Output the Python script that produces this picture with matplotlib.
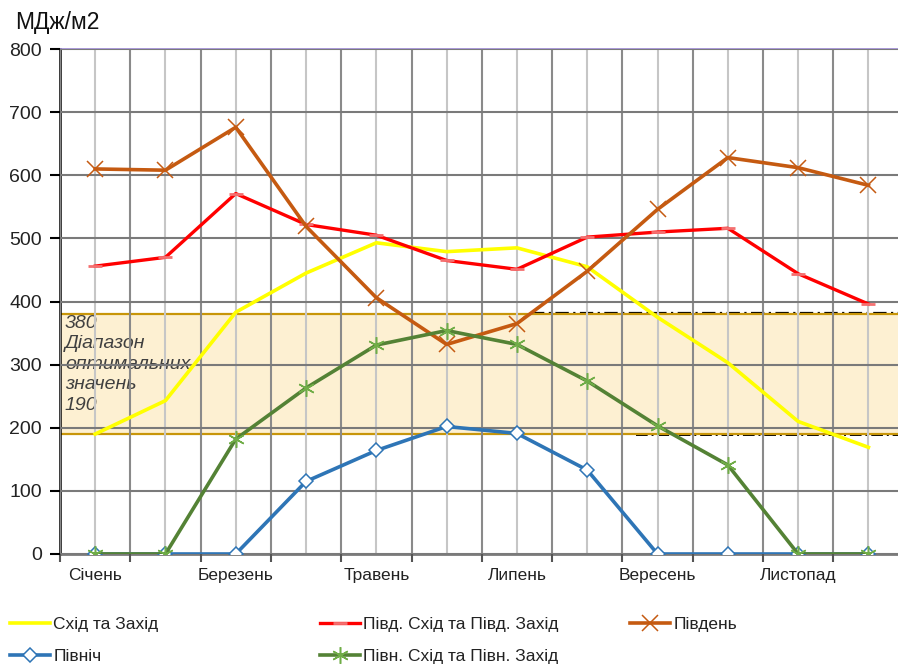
import matplotlib
matplotlib.use("Agg")
import matplotlib.pyplot as plt
from matplotlib import font_manager
import numpy as np

# monthly solar irradiation per facade orientation, MJ/m2
months = ["Січень", "Лютий", "Березень", "Квітень", "Травень", "Червень",
          "Липень", "Серпень", "Вересень", "Жовтень", "Листопад", "Грудень"]
east_west = [190, 243, 383, 445, 493, 479, 485, 455, 375, 303, 210, 169]
south_east_west = [456, 470, 571, 522, 505, 465, 451, 502, 510, 516, 444, 396]
south = [610, 608, 676, 519, 406, 332, 365, 448, 546, 628, 612, 584]
north = [0, 0, 0, 115, 164, 202, 191, 133, 0, 0, 0, 0]
north_east_west = [0, 0, 182, 263, 331, 354, 332, 274, 203, 141, 0, 0]

optimum_low, optimum_high = 190, 380
y_ticks = [0, 100, 200, 300, 400, 500, 600, 700, 800]


def pick_font(*names):
    installed = {f.name for f in font_manager.fontManager.ttflist}
    for n in names:
        if n in installed:
            return n
    return "DejaVu Sans"


SANS = pick_font("Liberation Sans", "Arial", "DejaVu Sans")
plt.rcParams["font.family"] = [SANS, "DejaVu Sans"]

fig = plt.figure(figsize=(8.98, 6.67), dpi=100)
ax = fig.add_axes([60 / 898, 113 / 667, 843.6 / 898, 505 / 667])

x = np.arange(len(months))
ax.set_xlim(-0.5, len(months) - 0.5)
ax.set_ylim(0, 800)

# optimum range band
ax.axhspan(optimum_low, optimum_high, facecolor="#fdf0d2", edgecolor="none", zorder=1)
ax.plot([6.2, 11.5], [optimum_high + 1, optimum_high + 1], color="black",
        ls=(0, (6, 2, 1, 2)), lw=1.6, zorder=1.3)
ax.plot([7.7, 11.5], [optimum_low - 1, optimum_low - 1], color="black",
        ls=(0, (6, 2, 1, 2)), lw=1.4, zorder=1.3)
for yv in (optimum_low, optimum_high):
    ax.axhline(yv, color="#c8960a", lw=1.6, zorder=1.4)
ax.text(-0.43, optimum_high - 1, f"{optimum_high}\nДіапазон\nоптимальних\nзначень\n{optimum_low}",
        ha="left", va="top", fontsize=14, style="italic", color="#404040",
        linespacing=1.27, zorder=1.5)

# grid: dark lines on category boundaries, light lines through month centres
ax.set_xticks(np.arange(-0.5, len(months) + 0.5, 1.0))
ax.set_xticklabels([])
ax.set_xticks(x, minor=True)
ax.set_xticklabels([m if i % 2 == 0 else "" for i, m in enumerate(months)],
                   minor=True, fontsize=12.5, color="#222222")
ax.tick_params(axis="x", which="major", direction="out", length=6, width=1.5, color="#555555")
ax.tick_params(axis="x", which="minor", length=0, pad=10)
ax.grid(True, axis="x", which="major", color="#8a8a8a", lw=1.5)
ax.grid(True, axis="x", which="minor", color="#c6c6c6", lw=1.5)

ax.set_yticks(y_ticks)
ax.set_yticklabels([str(v) for v in y_ticks], fontsize=14, color="#222222")
ax.tick_params(axis="y", direction="out", length=7, width=1.5, color="black", pad=6)
ax.grid(True, axis="y", color="#7a7a7a", lw=1.5)
ax.set_axisbelow(False)

ax.spines["left"].set_color("black")
ax.spines["left"].set_linewidth(1.8)
ax.spines["bottom"].set_color("#7a7a7a")
ax.spines["bottom"].set_linewidth(2)
ax.spines["top"].set_color("#9a86d0")
ax.spines["top"].set_linewidth(1.2)
ax.spines["right"].set_visible(False)

star = (6, 2, 0)
series = [
    ("Схід та Захід", east_west, dict(color="#ffff00", lw=2.6)),
    ("Півд. Схід та Півд. Захід", south_east_west,
     dict(color="#ff0000", lw=2.4, marker="_", ms=10, mew=2, mec="#f47070")),
    ("Південь", south, dict(color="#c55a11", lw=2.6, marker="x", ms=12, mew=1.1)),
    ("Північ", north, dict(color="#2e75b6", lw=2.6, marker="D", ms=7, mfc="white",
                           mec="#2e75b6", mew=1.1)),
    ("Півн. Схід та Півн. Захід", north_east_west,
     dict(color="#548235", lw=2.6, marker=star, ms=12, mew=1.1, mec="#70ad47")),
]
handles = {}
for label, vals, style in series:
    (ln,) = ax.plot(x, vals, label=label, zorder=3, **style)
    handles[label] = ln

fig.text(15 / 898, 1 - 22 / 667, "МДж/м2", fontsize=16.5, va="center", ha="left", color="#111111")

leg_kw = dict(frameon=False, loc="upper left", borderpad=0, borderaxespad=0,
              handlelength=2.3, handletextpad=0.2, labelspacing=0.95,
              prop={"size": 12.5})
columns = [
    (10, ["Схід та Захід", "Північ"]),
    (320, ["Півд. Схід та Півд. Захід", "Півн. Схід та Півн. Захід"]),
    (630, ["Південь"]),
]
for px, labels in columns:
    leg = fig.legend([handles[l] for l in labels], labels,
                     bbox_to_anchor=(px / 898, 1 - 617 / 667), **leg_kw)
    for t in leg.get_texts():
        t.set_color("#222222")

fig.savefig("out.png", dpi=100)
